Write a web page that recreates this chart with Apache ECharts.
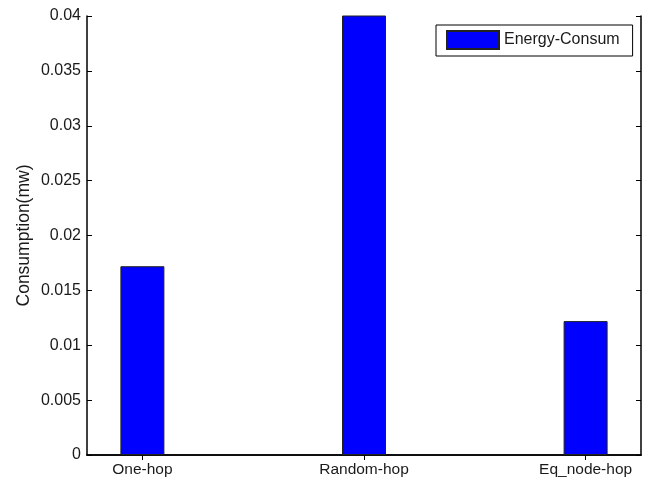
<!DOCTYPE html>
<html><head><meta charset="utf-8">
<script src="https://cdn.jsdelivr.net/npm/echarts@6/dist/echarts.min.js"></script>
<style>html,body{margin:0;padding:0;background:#fff}#c{width:646px;height:478px}</style>
</head><body><div id="c"></div>
<script>
const categories = ['One-hop', 'Random-hop', 'Eq_node-hop'];
const positions = [1, 2, 3];
const energyConsum = [0.0172, 0.041, 0.0122];
const seriesName = 'Energy-Consum';
const yTitle = 'Consumption(mw)';

const chart = echarts.init(document.getElementById('c'), null, {renderer: 'canvas'});
const font = 'Liberation Sans, Arial, sans-serif';
const axisCommon = {
  axisLine: {show: true, lineStyle: {color: '#000', width: 1.5}},
  axisTick: {show: true, inside: true, length: 5, lineStyle: {color: '#000'}},
  splitLine: {show: false}
};
chart.setOption({
  animation: false,
  backgroundColor: '#fff',
  grid: {left: 87, right: 5, top: 16, bottom: 23, containLabel: false},
  legend: {
    data: [{name: seriesName, icon: 'rect'}], left: 436, top: 25,
    itemWidth: 52, itemHeight: 18, itemGap: 5,
    padding: [5, 13, 6, 10],
    borderColor: '#000', borderWidth: 1,
    textStyle: {fontFamily: font, fontSize: 16, color: '#1a1a1a'}
  },
  xAxis: [{
    type: 'value', min: 0.75, max: 3.25, position: 'bottom',
    ...axisCommon,
    axisTick: {show: true, inside: true, length: 5, customValues: positions, lineStyle: {color: '#000'}},
    axisLabel: {customValues: positions, margin: 7, fontFamily: font, fontSize: 15.5, color: '#1a1a1a',
      formatter: v => categories[positions.indexOf(v)] || ''}
  }, {
    type: 'value', min: 0.75, max: 3.25, position: 'top',
    ...axisCommon,
    axisTick: {show: true, inside: true, length: 5, customValues: positions, lineStyle: {color: '#000'}},
    axisLabel: {show: false}
  }],
  yAxis: [{
    type: 'value', min: 0, max: 0.04, interval: 0.005, position: 'left',
    ...axisCommon,
    name: yTitle, nameLocation: 'middle', nameGap: 54, nameRotate: 90,
    nameMoveOverlap: false,
    nameTextStyle: {fontFamily: font, fontSize: 17.5, color: '#1a1a1a'},
    axisLabel: {margin: 6, fontFamily: font, fontSize: 16, color: '#1a1a1a'}
  }, {
    type: 'value', min: 0, max: 0.04, interval: 0.005, position: 'right',
    ...axisCommon,
    axisLabel: {show: false}
  }],
  series: [{
    name: seriesName, type: 'bar', xAxisIndex: 0, yAxisIndex: 0,
    barWidth: 44, clip: true,
    itemStyle: {color: '#0000ff', borderColor: '#222', borderWidth: 1},
    data: positions.map((p, i) => [p, energyConsum[i]])
  }]
});
</script></body></html>
